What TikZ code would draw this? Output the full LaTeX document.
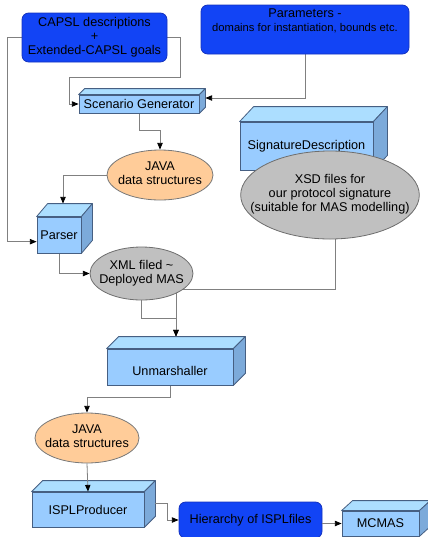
\documentclass[tikz,border=0pt]{standalone}
\usepackage{fontspec}
\setmainfont{Liberation Sans}
\usetikzlibrary{shapes.geometric,arrows.meta,calc,backgrounds}

\tikzset{every picture/.style={line width=0.75pt}}
\tikzset{
  bluebox/.style={draw={rgb, 255:red, 20; green, 50; blue, 190 }, fill={rgb, 255:red, 18; green, 68; blue, 245 }, rounded corners=5pt, inner sep=0pt, align=center, line width=0.6pt},
  cubefront/.style={draw={rgb, 255:red, 70; green, 95; blue, 130 }, fill={rgb, 255:red, 153; green, 204; blue, 255 }, inner sep=0pt, line width=0.6pt},
  cubetop/.style={draw={rgb, 255:red, 70; green, 95; blue, 130 }, fill={rgb, 255:red, 172; green, 222; blue, 255 }, line width=0.6pt, line join=round},
  cubeside/.style={draw={rgb, 255:red, 70; green, 95; blue, 130 }, fill={rgb, 255:red, 124; green, 170; blue, 218 }, line width=0.6pt, line join=round},
  javaell/.style={ellipse, draw={rgb, 255:red, 120; green, 120; blue, 120 }, fill={rgb, 255:red, 255; green, 204; blue, 153 }, inner sep=0pt, line width=0.6pt},
  xmlell/.style={ellipse, draw={rgb, 255:red, 110; green, 110; blue, 110 }, fill={rgb, 255:red, 192; green, 192; blue, 192 }, inner sep=0pt, line width=0.6pt},
  conn/.style={draw={rgb, 255:red, 128; green, 128; blue, 128 }, line width=0.6pt, -{Triangle[length=5pt,width=4pt,black]}},
}
% the two back faces of a cube whose front face is node #1
\newcommand{\cubefaces}[3]{%
  \draw[cubetop] (#1.north west) -- ++(#2,-#3) -- ($(#1.north east)+(#2,-#3)$) -- (#1.north east) -- cycle;
  \draw[cubeside] (#1.north east) -- ($(#1.north east)+(#2,-#3)$) -- ($(#1.south east)+(#2,-#3)$) -- (#1.south east) -- cycle;
}
% text of an ellipse, kept out of the ellipse's size
\newcommand{\elltext}[1]{\makebox[0pt]{\begin{tabular}{@{}c@{}}#1\end{tabular}}}

\begin{document}
\begin{tikzpicture}[x=0.75pt,y=0.75pt,yscale=-1,xscale=1,font=\fontsize{9.5}{10.5}\selectfont]
\useasboundingbox (0,0) rectangle (428,537);

%Shape: Rounded Rect 
\node[bluebox, minimum width=108.75pt, minimum height=36.75pt] (capsl) at (94.5,37.5) {CAPSL descriptions\\+\\Extended-CAPSL goals};
%Shape: Rounded Rect 
\node[bluebox, minimum width=156pt, minimum height=36.75pt] (params) at (305,29.5) {Parameters -\\{\fontsize{8.4}{10.5}\selectfont domains for instantiation, bounds etc.}\\ \strut};

%Shape: Cube 
\node[cubefront, minimum width=90pt, minimum height=13.5pt] (sg) at (139,104) {Scenario Generator};
\cubefaces{sg}{6}{6}
%Shape: Cube 
\node[cubefront, minimum width=99.75pt, minimum height=36pt] (sig) at (306.5,146) {SignatureDescription};
\cubefaces{sig}{14}{15}
%Shape: Cube 
\node[cubefront, minimum width=33pt, minimum height=27pt] (parser) at (59,235) {Parser};
\cubefaces{parser}{11}{13}
%Shape: Cube 
\node[cubefront, minimum width=94.5pt, minimum height=27pt, text height=13pt] (unm) at (170,367) {Unmarshaller};
\cubefaces{unm}{12}{12}
%Shape: Cube 
\node[cubefront, minimum width=84pt, minimum height=26.25pt] (ispl) at (88,509.5) {ISPLProducer};
\cubefaces{ispl}{11}{11}
%Shape: Cube 
\node[cubefront, minimum width=57.75pt, minimum height=18.75pt] (mcmas) at (380.5,523.5) {MCMAS};
\cubefaces{mcmas}{11}{10}

%Shape: Rounded Rect 
\node[bluebox, minimum width=107.25pt, minimum height=27pt] (hier) at (250.5,520) {Hierarchy of ISPLfiles};

%Shape: Ellipse 
\node[javaell, minimum width=79.5pt, minimum height=37.5pt] (java1) at (160,175) {\elltext{JAVA\\data structures}};
%Shape: Ellipse 
\node[xmlell, minimum width=77.25pt, minimum height=39.75pt] (xml) at (141.5,273.5) {\elltext{XML filed \textasciitilde\\Deployed MAS}};
%Shape: Ellipse 
\node[xmlell, minimum width=134pt, minimum height=66pt] (xsd) at (330,195) {\elltext{XSD files for\\our protocol signature\\(suitable for MAS modelling)}};
%Shape: Ellipse 
\node[javaell, minimum width=78pt, minimum height=37.5pt] (java2) at (87,438) {\elltext{JAVA\\data structures}};

% Connectors
\begin{scope}[on background layer]
\draw[conn] (capsl.east) -- ++(13,0) |- (69,77) |- (sg.west);
\draw[conn] (capsl.west) -- ++(-14,0) |- ([yshift=5pt]parser.west);
\draw[conn] (params.south) |- ($(sg.east)+(6,-6)$);
\draw[conn] (sg.south) -- ++(0,17) -| (java1.north);
\draw[conn] (java1.west) -| ($(parser.north)+(4,-13)$);
\draw[conn] (parser.south) |- (xml.west);
\draw[conn] (xml.south) -- ++(0,18) -| ($(unm.north)+(6,-12)$);
\draw[conn] ([xshift=4pt]xsd.south) -- ++(0,50) -| ($(unm.north)+(6,-12)$);
\draw[conn] (unm.south) -- ++(0,12) -| (java2.north);
\end{scope}
\draw[conn] (java2.south) -- (ispl.north);
\draw[conn] ($(ispl.east)+(11,-6)$) -- ++(12,0) |- (hier.west);
\draw[conn] (hier.east |- mcmas.west) -- (mcmas.west);

\end{tikzpicture}
\end{document}
